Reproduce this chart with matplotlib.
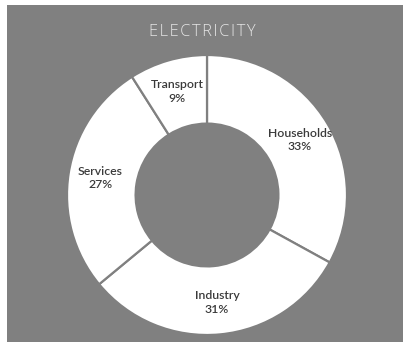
import matplotlib
matplotlib.use("Agg")
import matplotlib.pyplot as plt
from matplotlib.patches import Rectangle

categories = ["Households", "Industry", "Services", "Transport"]
shares = [33, 31, 27, 9]
title = "ELECTRICITY"

bg = "#808080"
W, H = 403, 342
fig = plt.figure(figsize=(W / 100, H / 100), dpi=100, facecolor="white")
fig.patches.append(Rectangle((7 / W, 0), 1 - 7 / W, 1 - 5 / H,
                             transform=fig.transFigure, facecolor=bg,
                             edgecolor="none", zorder=-10))

cx, cy, r = 207, 195, 140
ax = fig.add_axes([(cx - r) / W, 1 - (cy + r) / H, 2 * r / W, 2 * r / H])
ax.set_facecolor("none")
ax.set_zorder(5)

labels = [f"{c}\n{v}%" for c, v in zip(categories, shares)]
wedges, texts = ax.pie(shares, labels=labels, startangle=90, counterclock=False,
                       radius=1, labeldistance=0.77,
                       colors=["white"] * len(shares),
                       wedgeprops=dict(width=0.49, edgecolor=bg, linewidth=1.6),
                       textprops=dict(fontsize=8.8, color="#3a3a3a",
                                      family="Lato", fontweight="semibold",
                                      ha="center", va="center",
                                      linespacing=1.3))
for t in texts:
    t.set_horizontalalignment("center")
ax.set_xlim(-1, 1)
ax.set_ylim(-1, 1)
ax.axis("off")

# spaced-out heading
spaced = "\u200a".join(title)
fig.text(202 / W, 1 - 32 / H, spaced, ha="center", va="center",
         fontsize=11.8, color="#e6e6e6", family="Open Sans", fontweight="light",
         zorder=6)

fig.savefig("out.png", dpi=100, facecolor="white")
